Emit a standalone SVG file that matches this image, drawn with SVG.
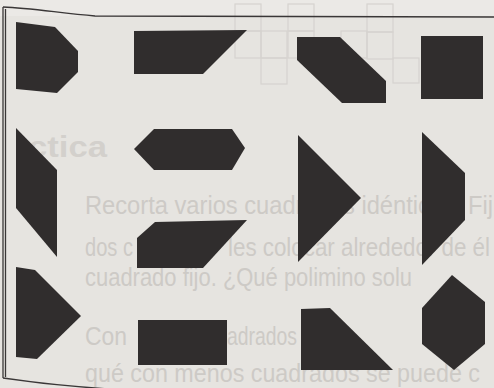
<svg xmlns="http://www.w3.org/2000/svg" width="494" height="388" viewBox="0 0 494 388">
<style>
.bg{fill:#e6e4e0}
.ghost{font-family:"Liberation Sans",Arial,sans-serif;fill:#cdcac6;font-size:26px}
.ghostb{font-family:"Liberation Sans",Arial,sans-serif;fill:#d3d0cc;font-size:30px;font-weight:bold}
.grid{fill:none;stroke:#d6d3cf;stroke-width:1.2}
.frame{fill:none;stroke:#3a3737;stroke-width:1.3}
.piece{fill:#302d2d}
</style>
<rect class="bg" x="0" y="0" width="494" height="388"/>
<rect x="0" y="0" width="494" height="16" fill="#ebe9e6"/>
<g id="show-through">
<g class="grid">
<rect x="235" y="4" width="26" height="27"/>
<rect x="235" y="31" width="26" height="27"/>
<rect x="261" y="31" width="26" height="27"/>
<rect x="261" y="58" width="26" height="26"/>
<rect x="288" y="4" width="26" height="27"/>
<rect x="288" y="31" width="26" height="27"/>
<rect x="341" y="31" width="26" height="27"/>
<rect x="367" y="4" width="26" height="28"/>
<rect x="367" y="32" width="26" height="27"/>
<rect x="393" y="58" width="26" height="25"/>
</g>
<text class="ghostb" x="28" y="157" textLength="79" lengthAdjust="spacingAndGlyphs">ctica</text>
<text class="ghost" x="85" y="214" textLength="408" lengthAdjust="spacingAndGlyphs">Recorta varios cuadrados idénticos. Fij</text>
<text class="ghost" x="85" y="256" textLength="48" lengthAdjust="spacingAndGlyphs">dos c</text>
<text class="ghost" x="228" y="256" textLength="262" lengthAdjust="spacingAndGlyphs">les colocar alrededor de él</text>
<text class="ghost" x="85" y="286" textLength="327" lengthAdjust="spacingAndGlyphs">cuadrado fijo. ¿Qué polimino solu</text>
<text class="ghost" x="85" y="345" textLength="42" lengthAdjust="spacingAndGlyphs">Con</text>
<text class="ghost" x="227" y="345" textLength="70" lengthAdjust="spacingAndGlyphs">adrados</text>
<text class="ghost" x="85" y="382" textLength="395" lengthAdjust="spacingAndGlyphs">qué con menos cuadrados se puede c</text>
</g>
<g id="frame">
<path class="frame" d="M3,7 C30,8 60,13 95,16 L494,17"/>
<path class="frame" d="M3,7 L3,378"/>
<path class="frame" d="M5.5,9 L5.5,377" stroke-width="0.8"/>
<path class="frame" d="M3,378 C30,382 60,386 110,389"/>
</g>
<g id="connectors"></g>
<g id="piece-1"><polygon class="piece" points="16,22 55,27 78,51 78,72 57,93 16,89"/></g>
<g id="piece-2"><polygon class="piece" points="134,31 247,30 203,74 134,74"/></g>
<g id="piece-3"><polygon class="piece" points="297,37 340,37 386,81 386,103 342,103 297,60"/></g>
<g id="piece-4"><polygon class="piece" points="421,36 483,36 483,99 421,99"/></g>
<g id="piece-5"><polygon class="piece" points="16,128 57,170 57,257 16,208"/></g>
<g id="piece-6"><polygon class="piece" points="134,149 154,129 232,129 245,148 232,170 154,170"/></g>
<g id="piece-7"><polygon class="piece" points="155,222 247,220 203,268 137,268 137,238"/></g>
<g id="piece-8"><polygon class="piece" points="298,135 361,198 298,262"/></g>
<g id="piece-9"><polygon class="piece" points="422,132 465,173 465,220 422,265"/></g>
<g id="piece-10"><polygon class="piece" points="16,267 35,270 81,316 37,359 16,357"/></g>
<g id="piece-11"><polygon class="piece" points="138,320 227,320 227,365 138,365"/></g>
<g id="piece-12"><polygon class="piece" points="301,309 330,308 393,370 301,370"/></g>
<g id="piece-13"><polygon class="piece" points="452,275 485,302 485,344 454,370 422,344 422,308"/></g>
</svg>
